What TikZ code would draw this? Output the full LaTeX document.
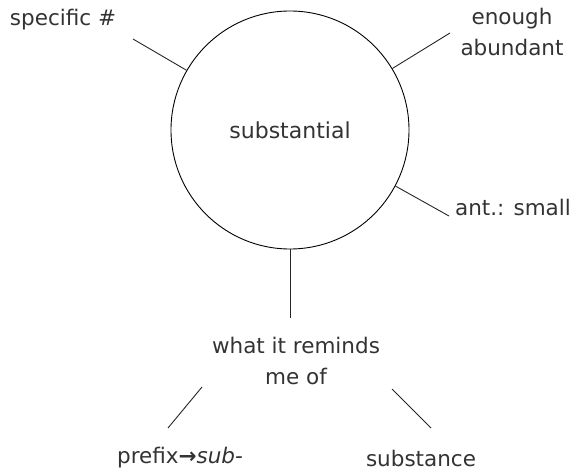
\documentclass[tikz,border=0pt]{standalone}
\usepackage{fontspec}
\setmainfont{DejaVu Sans}
\usepackage{tikz}
\usetikzlibrary{positioning}

\begin{document}
\begin{tikzpicture}[
    x=1pt, y=-1pt,
    hub/.style={
        circle,
        draw,
        line width=0.9pt,
        minimum size=238pt,
        inner sep=0pt,
        font=\fontsize{22}{26}\selectfont,
        text=black!80
    },
    word/.style={
        align=center,
        inner sep=1pt,
        font=\fontsize{21.5}{31}\selectfont,
        text=black!80
    },
    spoke/.style={line width=0.9pt, draw=black!85}
]
\useasboundingbox (0,0) rectangle (574,474);

\node[hub] (main) at (290,130) {substantial};

\node[word] (num) at (63,20) {specific \#};
\node[word] (enough) at (512,32) {enough\\abundant};
\node[word] (ant) at (513,207) {ant.: small};
\node[word] (remind) at (296,361) {what it reminds\\me of};
\node[word] (prefix) at (180,458) {prefix{\bfseries→}\textit{sub-}};
\node[word] (subst) at (421,458) {substance};

% free ends of the spokes
\coordinate (numend) at (133,39);
\coordinate (enoughend) at (450,33);
\coordinate (antend) at (449,216);
\coordinate (remindend) at (290,318);
\coordinate (prefixtop) at (202,387);
\coordinate (prefixend) at (168,428);
\coordinate (substtop) at (392,389);
\coordinate (substend) at (431,428);

\draw[spoke] (main.150) -- (numend);
\draw[spoke] (main.31.5) -- (enoughend);
\draw[spoke] (main.-28) -- (antend);
\draw[spoke] (main.south) -- (remindend);
\draw[spoke] (prefixtop) -- (prefixend);
\draw[spoke] (substtop) -- (substend);

\end{tikzpicture}
\end{document}
